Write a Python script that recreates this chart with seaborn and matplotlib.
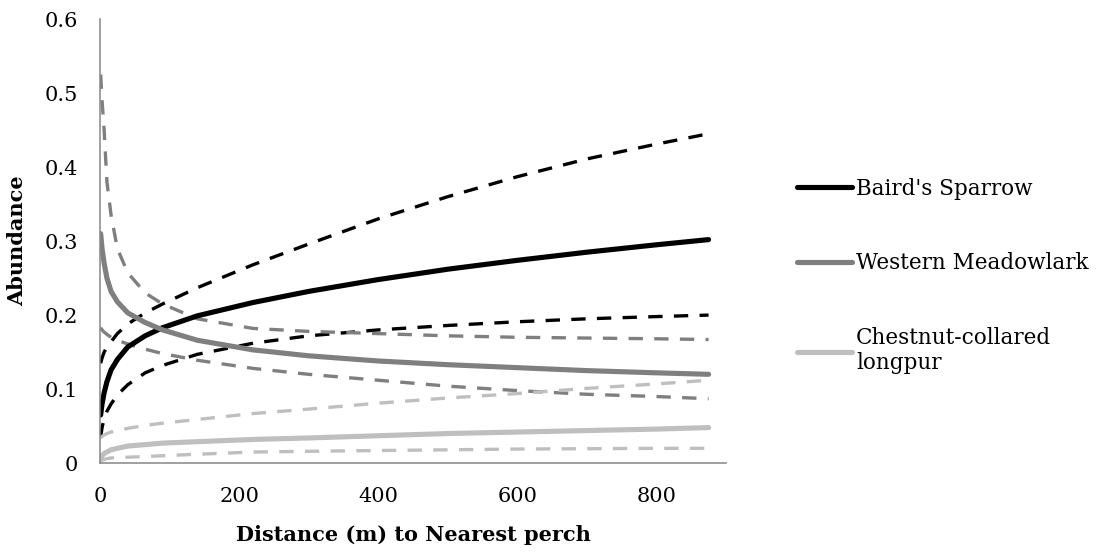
import pandas as pd
import matplotlib
matplotlib.use("Agg")
import matplotlib.pyplot as plt
import seaborn as sns

# distance (m) to nearest perch
distance = [1, 3, 6, 10, 16, 25, 40, 65, 90, 140, 220, 300, 400, 500, 600, 700, 800, 875]

# Baird's Sparrow
bais_fit = [0.065, 0.080, 0.095, 0.110, 0.126, 0.140, 0.157, 0.172, 0.183, 0.199, 0.217, 0.232,
            0.248, 0.262, 0.274, 0.285, 0.295, 0.302]
bais_hi = [0.135, 0.142, 0.150, 0.157, 0.164, 0.175, 0.188, 0.203, 0.215, 0.237, 0.268, 0.296,
           0.330, 0.360, 0.387, 0.411, 0.431, 0.445]
bais_lo = [0.035, 0.048, 0.060, 0.070, 0.080, 0.092, 0.106, 0.122, 0.132, 0.147, 0.162, 0.172,
           0.180, 0.186, 0.191, 0.195, 0.198, 0.200]

# Western Meadowlark
weme_fit = [0.310, 0.290, 0.270, 0.250, 0.232, 0.218, 0.203, 0.190, 0.180, 0.166, 0.153, 0.145,
            0.138, 0.133, 0.129, 0.125, 0.122, 0.120]
weme_hi = [0.525, 0.490, 0.450, 0.380, 0.335, 0.290, 0.257, 0.230, 0.215, 0.195, 0.182, 0.178,
           0.175, 0.172, 0.170, 0.169, 0.168, 0.167]
weme_lo = [0.183, 0.180, 0.177, 0.174, 0.170, 0.166, 0.161, 0.154, 0.148, 0.139, 0.128, 0.120,
           0.112, 0.104, 0.098, 0.093, 0.090, 0.087]

# Chestnut-collared longspur
cclo_fit = [0.006, 0.010, 0.013, 0.015, 0.018, 0.020, 0.023, 0.025, 0.027, 0.029, 0.032, 0.034,
            0.037, 0.040, 0.042, 0.044, 0.046, 0.048]
cclo_hi = [0.034, 0.036, 0.038, 0.040, 0.042, 0.044, 0.047, 0.051, 0.054, 0.059, 0.067, 0.073,
           0.081, 0.088, 0.094, 0.101, 0.107, 0.112]
cclo_lo = [0.002, 0.004, 0.005, 0.006, 0.007, 0.0075, 0.008, 0.009, 0.010, 0.012, 0.015, 0.016,
           0.017, 0.018, 0.019, 0.0195, 0.020, 0.020]

species = ["Baird's Sparrow", "Western Meadowlark", "Chestnut-collared\nlongpur"]
colors = ["#000000", "#7f7f7f", "#bfbfbf"]

sns.set_style("white")
plt.rcParams['font.family'] = ['DejaVu Serif']
plt.rcParams['text.color'] = 'black'
plt.rcParams['axes.labelcolor'] = 'black'

fig = plt.figure(figsize=(11.07, 5.52), dpi=100)
ax = fig.add_axes([0.0903, 0.161, 0.5655, 0.8045])

dash = (0, (4.3, 3.4))
series = [(bais_fit, bais_hi, bais_lo), (weme_fit, weme_hi, weme_lo), (cclo_fit, cclo_hi, cclo_lo)]
handles = []
for (fit, hi, lo), col in zip(series, colors):
    sns.lineplot(x=distance, y=hi, ax=ax, color=col, lw=2.4, linestyle=dash)
    sns.lineplot(x=distance, y=lo, ax=ax, color=col, lw=2.4, linestyle=dash)
for (fit, hi, lo), col in zip(series, colors):
    sns.lineplot(x=distance, y=fit, ax=ax, color=col, lw=3.7, solid_capstyle='round')
    handles.append(ax.lines[-1])

ax.set_xlim(0, 900)
ax.set_ylim(0, 0.6)
ax.set_xticks([0, 200, 400, 600, 800])
ax.set_yticks([0, 0.1, 0.2, 0.3, 0.4, 0.5, 0.6])
ax.set_yticklabels(["0", "0.1", "0.2", "0.3", "0.4", "0.5", "0.6"])
for s in ["top", "right"]:
    ax.spines[s].set_visible(False)
for s in ["left", "bottom"]:
    ax.spines[s].set_color("#868686")
    ax.spines[s].set_linewidth(1.1)
ax.tick_params(axis="both", direction="out", length=6, width=1.1,
               labelsize=15, colors="#868686", labelcolor="black")
ax.tick_params(axis="y", pad=10)
ax.tick_params(axis="x", pad=11)
ax.set_xlabel("Distance (m) to Nearest perch", fontsize=15, fontweight="bold",
              labelpad=14, color="black")
ax.set_ylabel("Abundance", fontsize=15, fontweight="bold", labelpad=12, color="black")

fig.legend(handles, species, loc="center left", bbox_to_anchor=(0.72, 0.5),
           frameon=False, fontsize=15.5, handlelength=2.55, handletextpad=0.2,
           labelspacing=2.45, borderpad=0, borderaxespad=0, labelcolor="black")

plt.savefig("out.png", dpi=100)
